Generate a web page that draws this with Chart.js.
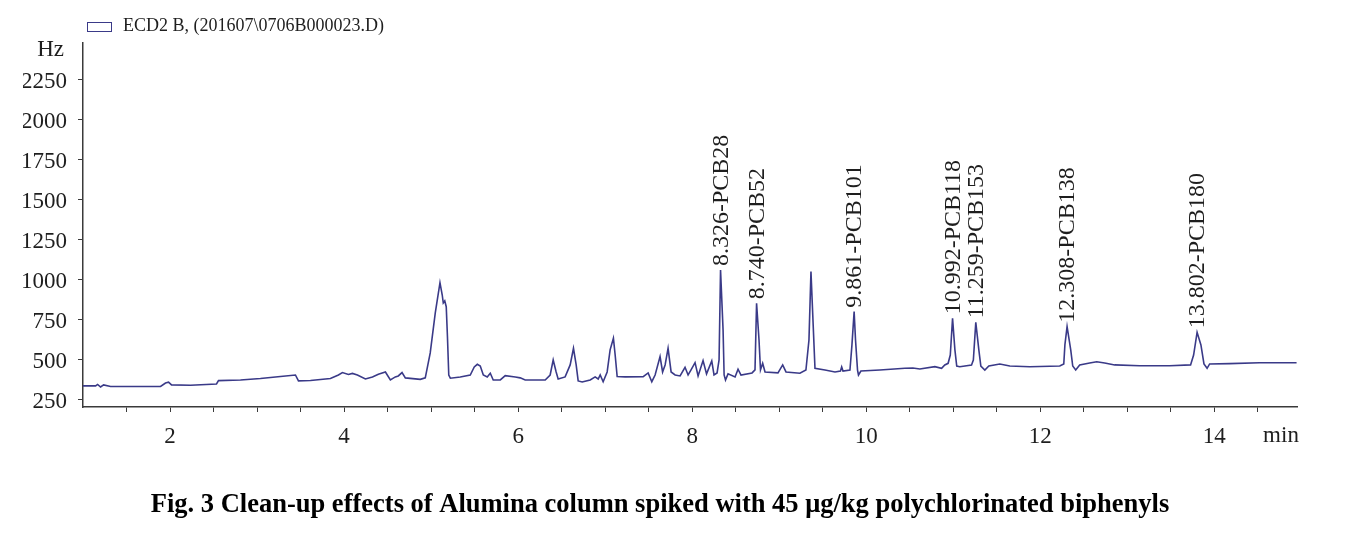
<!DOCTYPE html>
<html>
<head>
<meta charset="utf-8">
<script src="https://cdn.jsdelivr.net/npm/chart.js@4.4.1/dist/chart.umd.min.js"></script>
<style>
html,body{margin:0;padding:0;background:#fff;}
#wrap{width:1350px;height:538px;position:relative;}
</style>
</head>
<body>
<div id="wrap"><canvas id="c" width="1350" height="538"></canvas></div>
<script>
// ---- data ----
const seriesName = 'ECD2 B, (201607\\0706B000023.D)';
const yUnit = 'Hz';
const xUnit = 'min';
const caption = 'Fig. 3 Clean-up effects of Alumina column spiked with 45 \u03bcg/kg polychlorinated biphenyls';

const retentionTimes = [
  1.0, 1.145, 1.168, 1.202, 1.237, 1.317, 1.891, 1.948, 1.983, 2.017,
  2.235, 2.534, 2.557, 2.81, 3.039, 3.269, 3.441, 3.476, 3.614, 3.843,
  3.935, 3.981, 4.05, 4.096, 4.153, 4.245, 4.326, 4.394, 4.475, 4.532,
  4.589, 4.623, 4.666, 4.704, 4.876, 4.933, 4.99, 5.048, 5.102, 5.128,
  5.14, 5.157, 5.174, 5.188, 5.203, 5.221, 5.335, 5.45, 5.496, 5.531,
  5.565, 5.6, 5.645, 5.68, 5.714, 5.795, 5.852, 5.967, 6.024, 6.081,
  6.311, 6.368, 6.403, 6.437, 6.46, 6.54, 6.598, 6.636, 6.667, 6.69,
  6.736, 6.828, 6.885, 6.92, 6.943, 6.977, 7.023, 7.057, 7.095, 7.115,
  7.138, 7.23, 7.437, 7.494, 7.536, 7.574, 7.631, 7.66, 7.689, 7.723,
  7.758, 7.804, 7.861, 7.918, 7.953, 7.987, 8.033, 8.068, 8.125, 8.165,
  8.225, 8.251, 8.286, 8.309, 8.326, 8.355, 8.367, 8.383, 8.412, 8.493,
  8.527, 8.561, 8.688, 8.722, 8.74, 8.768, 8.785, 8.81, 8.837, 8.986,
  9.04, 9.078, 9.238, 9.307, 9.342, 9.365, 9.388, 9.411, 9.526, 9.641,
  9.704, 9.718, 9.733, 9.813, 9.836, 9.861, 9.877, 9.9, 9.911, 9.939,
  10.157, 10.444, 10.536, 10.616, 10.789, 10.866, 10.903, 10.941, 10.966, 10.992,
  11.019, 11.04, 11.075, 11.21, 11.231, 11.259, 11.294, 11.317, 11.363, 11.409,
  11.535, 11.65, 11.879, 12.224, 12.27, 12.283, 12.308, 12.35, 12.373, 12.407,
  12.453, 12.568, 12.648, 12.74, 12.855, 13.142, 13.486, 13.727, 13.762, 13.802,
  13.846, 13.881, 13.917, 13.946, 14.175, 14.52, 14.945
];

const signalHz = [
  338, 338, 347, 331, 344, 334, 334, 356, 361, 344,
  342, 350, 371, 375, 384, 397, 406, 369, 372, 384,
  406, 421, 409, 416, 406, 381, 394, 411, 425, 375,
  394, 400, 421, 388, 379, 388, 544, 794, 983, 906,
  856, 869, 833, 644, 406, 386, 394, 406, 456, 473,
  462, 406, 394, 417, 375, 375, 402, 394, 388, 375,
  375, 406, 500, 425, 381, 394, 469, 573, 469, 369,
  362, 375, 394, 381, 406, 364, 425, 563, 636, 531,
  396, 394, 396, 419, 364, 406, 521, 425, 469, 573,
  425, 406, 400, 454, 406, 438, 483, 400, 496, 413,
  494, 406, 419, 500, 1062, 688, 406, 375, 413, 394,
  442, 406, 419, 438, 854, 625, 438, 479, 425, 419,
  469, 425, 417, 437, 625, 1052, 750, 448, 437, 425,
  431, 456, 431, 437, 594, 802, 625, 437, 406, 431,
  437, 448, 450, 444, 458, 448, 469, 479, 531, 760,
  563, 462, 458, 469, 500, 735, 563, 462, 437, 462,
  475, 462, 458, 462, 475, 594, 708, 563, 462, 437,
  469, 481, 489, 481, 469, 464, 464, 469, 531, 673,
  594, 475, 448, 475, 477, 483, 483
];

const peakTimes = [8.326, 8.740, 9.861, 10.992, 11.259, 12.308, 13.802];
const peakNames = ['8.326-PCB28', '8.740-PCB52', '9.861-PCB101', '10.992-PCB118', '11.259-PCB153', '12.308-PCB138', '13.802-PCB180'];

const yTickValues = [250, 500, 750, 1000, 1250, 1500, 1750, 2000, 2250];
const xTickValues = [1.5, 2, 2.5, 3, 3.5, 4, 4.5, 5, 5.5, 6, 6.5, 7, 7.5, 8, 8.5, 9, 9.5, 10, 10.5, 11, 11.5, 12, 12.5, 13, 13.5, 14, 14.5];
const xLabelledTicks = [2, 4, 6, 8, 10, 12, 14];

const xMin = 1, xMax = 14.95;
const yMin = 206, yMax = 2481;

// ---- styles ----
const LINE = '#3a3a88';
const TEXT = '#1e1e1e';
const AXIS = '#3a3a3a';
const SERIF = '"Liberation Serif", "Times New Roman", serif';

const points = retentionTimes.map((t, i) => ({x: t, y: signalHz[i]}));

const extras = {
  id: 'extras',
  afterDatasetsDraw(chart) {
    const {ctx, scales: {x, y}} = chart;
    ctx.save();
    // peak labels
    ctx.fillStyle = TEXT;
    ctx.font = '24px ' + SERIF;
    peakTimes.forEach((t, i) => {
      const idx = retentionTimes.findIndex(v => Math.abs(v - t) < 1e-6);
      const v = idx >= 0 ? signalHz[idx] : 0;
      const px = x.getPixelForValue(t);
      const py = y.getPixelForValue(v);
      ctx.save();
      ctx.translate(px + 1, py - 4);
      ctx.rotate(-Math.PI / 2);
      ctx.textAlign = 'left';
      ctx.textBaseline = 'middle';
      ctx.fillText(peakNames[i], 0, 0);
      ctx.restore();
    });
    // axis units
    ctx.font = '23px ' + SERIF;
    ctx.textBaseline = 'middle';
    ctx.textAlign = 'right';
    ctx.fillText(yUnit, 64, 50);
    ctx.textAlign = 'center';
    ctx.fillText(xUnit, 1281, 436);
    // legend
    ctx.strokeStyle = LINE;
    ctx.lineWidth = 1;
    ctx.strokeRect(87.5, 22.5, 24, 9);
    ctx.fillStyle = TEXT;
    ctx.font = '18px ' + SERIF;
    ctx.textAlign = 'left';
    ctx.textBaseline = 'middle';
    ctx.fillText(seriesName, 123, 26);
    ctx.restore();
  }
};

new Chart(document.getElementById('c'), {
  type: 'line',
  data: {
    datasets: [{
      label: seriesName,
      data: points,
      borderColor: LINE,
      borderWidth: 1.6,
      pointRadius: 0,
      tension: 0,
      fill: false
    }]
  },
  options: {
    responsive: false,
    animation: false,
    layout: {padding: {top: 43, right: 53, left: 23, bottom: 0}},
    plugins: {
      legend: {display: false},
      tooltip: {enabled: false},
      title: {
        display: true,
        position: 'bottom',
        text: caption,
        color: '#000',
        font: {family: SERIF, size: 26.5, weight: 'bold'},
        padding: {top: 10, bottom: 17}
      }
    },
    scales: {
      x: {
        type: 'linear',
        min: xMin, max: xMax,
        afterFit(s) { s.height = 72.2; },
        afterBuildTicks(s) { s.ticks = xTickValues.map(v => ({value: v})); },
        grid: {display: true, drawOnChartArea: false, drawTicks: true, tickLength: 5, color: AXIS},
        border: {display: true, color: AXIS, width: 1.5},
        ticks: {
          autoSkip: false, maxRotation: 0,
          padding: 11, color: TEXT, font: {family: SERIF, size: 23},
          callback(v) { return xLabelledTicks.includes(v) ? String(v) : ''; }
        }
      },
      y: {
        type: 'linear',
        min: yMin, max: yMax,
        afterFit(s) { s.width = 60; },
        afterBuildTicks(s) { s.ticks = yTickValues.map(v => ({value: v})); },
        grid: {display: true, drawOnChartArea: false, drawTicks: true, tickLength: 5, color: AXIS},
        border: {display: true, color: AXIS, width: 1.5},
        ticks: {
          autoSkip: false, padding: 11, labelOffset: 2,
          color: TEXT, font: {family: SERIF, size: 23},
          callback(v) { return String(v); }
        }
      }
    }
  },
  plugins: [extras]
});
</script>
</body>
</html>
